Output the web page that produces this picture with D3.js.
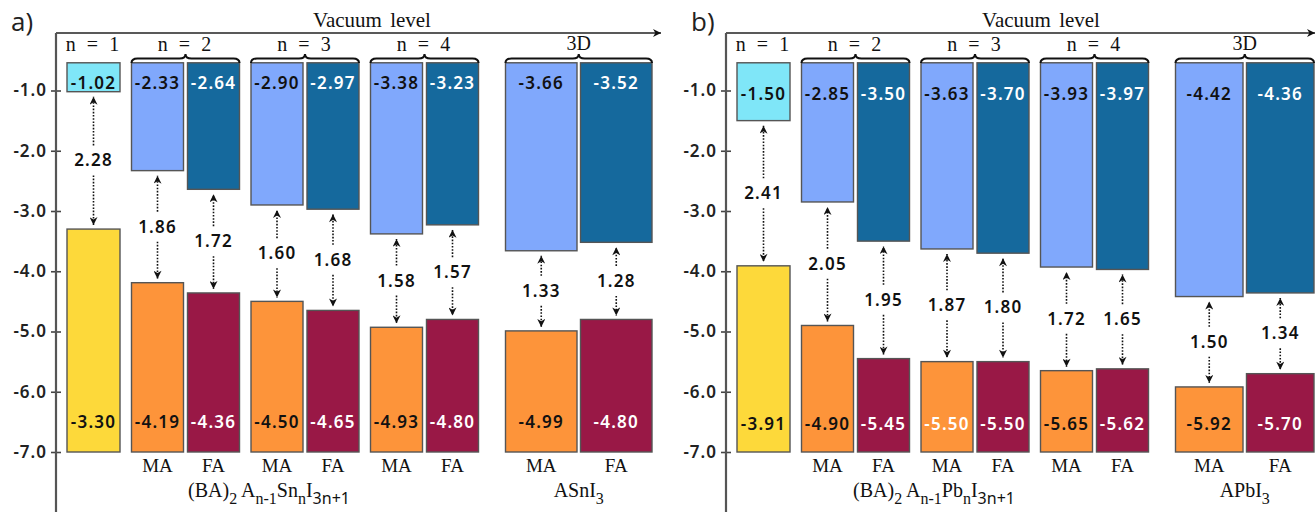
<!DOCTYPE html>
<html>
<head>
<meta charset="utf-8">
<script src="https://cdn.jsdelivr.net/npm/d3@7"></script>
<style>
  html, body { margin: 0; padding: 0; background: #fff; }
  svg { display: block; }
  .num { font-family: "Noto Sans", "Open Sans", sans-serif; font-weight: 600; font-size: 17px; letter-spacing: 1.2px; }
  .serif { font-family: "Liberation Serif", "DejaVu Serif", serif; }
</style>
</head>
<body>
<svg id="chart" width="1315" height="512"></svg>
<script>
// ---------- data ----------
const columns      = ["n1", "MA2", "FA2", "MA3", "FA3", "MA4", "FA4", "MA3D", "FA3D"];
const columnGroup  = ["n = 1", "n = 2", "n = 2", "n = 3", "n = 3", "n = 4", "n = 4", "3D", "3D"];
const cationLabels = ["", "MA", "FA", "MA", "FA", "MA", "FA", "MA", "FA"];
const groups       = ["n = 1", "n = 2", "n = 3", "n = 4", "3D"];
const yTicks       = [-1, -2, -3, -4, -5, -6, -7];

// panel a : Sn
const snCB  = [-1.02, -2.33, -2.64, -2.90, -2.97, -3.38, -3.23, -3.66, -3.52];
const snVB  = [-3.30, -4.19, -4.36, -4.50, -4.65, -4.93, -4.80, -4.99, -4.80];
const snGap = [2.28, 1.86, 1.72, 1.60, 1.68, 1.58, 1.57, 1.33, 1.28];
// panel b : Pb
const pbCB  = [-1.50, -2.85, -3.50, -3.63, -3.70, -3.93, -3.97, -4.42, -4.36];
const pbVB  = [-3.91, -4.90, -5.45, -5.50, -5.50, -5.65, -5.62, -5.92, -5.70];
const pbGap = [2.41, 2.05, 1.95, 1.87, 1.80, 1.72, 1.65, 1.50, 1.34];

// ---------- styles ----------
const cbColor = {n1: "#7fe6f8", MA: "#80a8fc", FA: "#15699d"};
const vbColor = {n1: "#fdd93a", MA: "#fd943a", FA: "#991846"};

const svg = d3.select("#chart");
const defs = svg.append("defs");
defs.append("marker")
  .attr("id", "ah").attr("viewBox", "0 0 10 10").attr("refX", 10).attr("refY", 5)
  .attr("markerWidth", 10).attr("markerHeight", 8).attr("markerUnits", "userSpaceOnUse")
  .attr("orient", "auto")
  .append("path").attr("d", "M0,0 L10,5 L0,10 L3,5 Z").attr("fill", "#111");
defs.append("marker")
  .attr("id", "vac").attr("viewBox", "0 0 10 10").attr("refX", 10).attr("refY", 5)
  .attr("markerWidth", 12).attr("markerHeight", 8).attr("markerUnits", "userSpaceOnUse")
  .attr("orient", "auto")
  .append("path").attr("d", "M0,0 L10,5 L0,10 L3,5 Z").attr("fill", "#111");

const y = d3.scaleLinear().domain([-7, -1]).range([452, 90.5]);
const barTopValue = -0.54;
const hy = v => v.toFixed(2).replace("\u2212", "-");

function layout(axisX, w3D) {
  const pos = [];
  let x = axisX + 11;
  pos.push([x, x + 53]); x += 53;
  for (let g = 0; g < 3; g++) {
    x += 11.5;
    pos.push([x, x + 52]); x += 56;
    pos.push([x, x + 52]); x += 52;
  }
  x += 27;
  pos.push([x, x + w3D]); x += w3D + 3.5;
  pos.push([x, x + w3D]);
  return pos;
}

function drawPanel(opt) {
  const g = svg.append("g");
  const ax = opt.axisX;
  const pos = layout(ax, opt.w3D);

  g.append("text").attr("x", opt.letterX).attr("y", 31)
    .style("font-family", "'Open Sans', 'Noto Sans', sans-serif").style("font-size", "26px")
    .attr("fill", "#222").text(opt.letter);

  g.append("line").attr("x1", ax).attr("x2", opt.lineEnd).attr("y1", 33).attr("y2", 33)
    .attr("stroke", "#222").attr("stroke-width", 1.6).attr("marker-end", "url(#vac)");
  g.append("text").attr("class", "serif").attr("x", opt.vacX).attr("y", 27)
    .attr("text-anchor", "middle").style("font-size", "21px").attr("fill", "#111")
    .style("word-spacing", "3px").text("Vacuum level");

  const axis = d3.axisLeft(y).tickValues(yTicks).tickSize(5).tickPadding(4)
    .tickFormat(d => d.toFixed(1));
  const ag = g.append("g").attr("transform", `translate(${ax},0)`).call(axis);
  ag.select(".domain").remove();
  ag.selectAll(".tick line").attr("x1", 5).attr("stroke", "#444").attr("stroke-width", 1.6);
  ag.selectAll(".tick text").attr("class", "num").attr("fill", "#222")
    .style("font-size", "17px").style("letter-spacing", "1px");
  g.append("line").attr("x1", ax).attr("x2", ax).attr("y1", 33).attr("y2", 512)
    .attr("stroke", "#555").attr("stroke-width", 2.2);

  const kind = c => c === "n1" ? "n1" : c.slice(0, 2);

  columns.forEach((c, i) => {
    const [x0, x1] = pos[i];
    const k = kind(c);
    const cx = (x0 + x1) / 2;
    g.append("rect").attr("x", x0).attr("width", x1 - x0)
      .attr("y", y(barTopValue)).attr("height", y(opt.cb[i]) - y(barTopValue))
      .attr("fill", cbColor[k]).attr("stroke", "#555").attr("stroke-width", 1.4);
    g.append("rect").attr("x", x0).attr("width", x1 - x0)
      .attr("y", y(opt.vb[i])).attr("height", y(-7) - y(opt.vb[i]))
      .attr("fill", vbColor[k]).attr("stroke", "#555").attr("stroke-width", 1.4);

    g.append("text").attr("class", "num").attr("x", cx).attr("y", opt.cbLabelY)
      .attr("text-anchor", "middle").attr("fill", k === "FA" ? "#fff" : "#111")
      .text(hy(opt.cb[i]));
    const vbWhite = k === "FA" || opt.whiteVB.includes(i);
    g.append("text").attr("class", "num").attr("x", cx).attr("y", opt.vbLabelY)
      .attr("text-anchor", "middle").attr("fill", vbWhite ? "#fff" : "#111")
      .text(hy(opt.vb[i]));

    const yt = y(opt.cb[i]) + 5, yb = y(opt.vb[i]) - 4, ym = (y(opt.cb[i]) + y(opt.vb[i])) / 2;
    g.append("line").attr("x1", cx).attr("x2", cx).attr("y1", ym - 15).attr("y2", yt)
      .attr("stroke", "#111").attr("stroke-width", 1.6).attr("stroke-dasharray", "1.6,1.6")
      .attr("marker-end", "url(#ah)");
    g.append("line").attr("x1", cx).attr("x2", cx).attr("y1", ym + 15).attr("y2", yb)
      .attr("stroke", "#111").attr("stroke-width", 1.6).attr("stroke-dasharray", "1.6,1.6")
      .attr("marker-end", "url(#ah)");
    g.append("text").attr("class", "num").attr("x", cx).attr("y", ym + 6)
      .attr("text-anchor", "middle").attr("fill", "#111").text(opt.gap[i].toFixed(2));

    if (cationLabels[i]) {
      g.append("text").attr("class", "serif").attr("x", cx).attr("y", 472)
        .attr("text-anchor", "middle").style("font-size", "19px").attr("fill", "#111")
        .text(cationLabels[i]);
    }
  });

  groups.forEach(gr => {
    const idx = columnGroup.map((v, i) => v === gr ? i : -1).filter(i => i >= 0);
    const x0 = pos[idx[0]][0], x1 = pos[idx[idx.length - 1]][1];
    const xm = (x0 + x1) / 2;
    g.append("text").attr("class", "serif").attr("x", xm).attr("y", gr === "3D" ? 50 : 51)
      .attr("text-anchor", "middle").style("font-size", "20px").attr("fill", "#111")
      .style("letter-spacing", gr === "3D" ? "0px" : "2px").style("word-spacing", "2px")
      .text(gr);
    if (idx.length > 1) {
      const yb = 63, h = 4.5;
      const p = `M${x0},${yb} Q${x0},${yb - h} ${x0 + 6},${yb - h} L${xm - 6},${yb - h} Q${xm},${yb - h} ${xm},${yb - 2 * h}` +
                ` Q${xm},${yb - h} ${xm + 6},${yb - h} L${x1 - 6},${yb - h} Q${x1},${yb - h} ${x1},${yb}`;
      g.append("path").attr("d", p).attr("fill", "none").attr("stroke", "#111").attr("stroke-width", 2);
    }
  });

  const f = g.append("text").attr("class", "serif").attr("x", opt.formulaX).attr("y", 497)
    .attr("text-anchor", "middle").style("font-size", "20px").attr("fill", "#111");
  const sub = (t, sans) => f.append("tspan").attr("dy", 7).style("font-size", "16px")
    .style("font-family", sans ? "'Noto Sans', sans-serif" : null).text(t);
  const main = t => f.append("tspan").attr("dy", -7).text(t);
  f.append("tspan").text("(BA)");
  sub("2");
  main(" A");
  sub("n-1");
  main(opt.metal);
  sub("n");
  main("I");
  sub("3n+1", true);

  const f2 = g.append("text").attr("class", "serif").attr("x", (pos[7][0] + pos[8][1]) / 2).attr("y", 497)
    .attr("text-anchor", "middle").style("font-size", "20px").attr("fill", "#111");
  f2.append("tspan").text("A" + opt.metal + "I");
  f2.append("tspan").attr("dy", 7).style("font-size", "16px").text("3");
}

drawPanel({axisX: 56, w3D: 71.5, letter: "a)", letterX: 11, lineEnd: 661, vacX: 372,
  cb: snCB, vb: snVB, gap: snGap, metal: "Sn", formulaX: 269, cbLabelY: 89, vbLabelY: 428, whiteVB: []});
drawPanel({axisX: 726, w3D: 67.5, letter: "b)", letterX: 691, lineEnd: 1315, vacX: 1041,
  cb: pbCB, vb: pbVB, gap: pbGap, metal: "Pb", formulaX: 934, cbLabelY: 100, vbLabelY: 430, whiteVB: [3]});
</script>
</body>
</html>
